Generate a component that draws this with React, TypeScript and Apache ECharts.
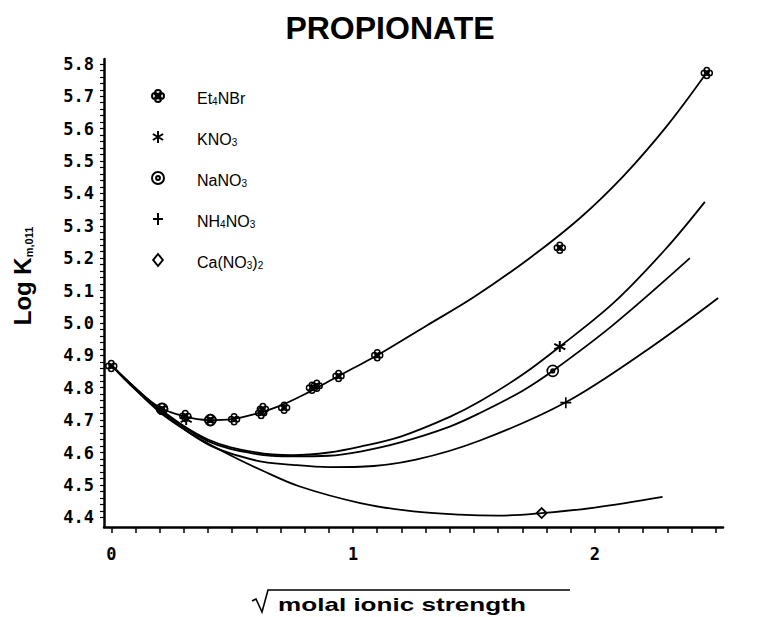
import React, { useEffect, useRef } from 'react';
import * as echarts from 'echarts';

// ---- data ----
const seriesNames = ['Et4NBr', 'KNO3', 'NaNO3', 'NH4NO3', 'Ca(NO3)2'];

// measured points
const et4nbrX = [0, 0.21, 0.306, 0.41, 0.508, 0.62, 0.627, 0.715, 0.83, 0.85, 0.94, 1.10, 1.855, 2.463];
const et4nbrY = [4.867, 4.734, 4.713, 4.70, 4.703, 4.722, 4.734, 4.738, 4.80, 4.806, 4.836, 4.90, 5.232, 5.772];
const kno3X = [0.31, 1.855];
const kno3Y = [4.702, 4.927];
const nano3X = [0.21, 0.41, 1.826];
const nano3Y = [4.735, 4.70, 4.852];
const nh4no3X = [1.88];
const nh4no3Y = [4.754];
const cano3X = [1.78];
const cano3Y = [4.413];

// fitted curves
const et4nbrCurveX = [0, 0.1, 0.2, 0.3, 0.4, 0.5, 0.6, 0.7, 0.8, 0.9, 1.0, 1.1, 1.3, 1.5, 1.73, 1.94, 2.12, 2.30, 2.46];
const et4nbrCurveY = [4.87, 4.795, 4.74, 4.712, 4.70, 4.703, 4.72, 4.745, 4.78, 4.82, 4.86, 4.90, 4.99, 5.08, 5.20, 5.325, 5.455, 5.61, 5.77];
const kno3CurveX = [0, 0.2, 0.4, 0.6, 0.75, 0.9, 1.03, 1.2, 1.4, 1.525, 1.7, 1.855, 2.076, 2.29, 2.455];
const kno3CurveY = [4.87, 4.735, 4.64, 4.60, 4.592, 4.60, 4.618, 4.65, 4.71, 4.758, 4.84, 4.927, 5.061, 5.226, 5.374];
const nano3CurveX = [0, 0.2, 0.4, 0.6, 0.75, 0.9, 1.03, 1.2, 1.4, 1.525, 1.7, 1.828, 2.076, 2.393];
const nano3CurveY = [4.87, 4.735, 4.635, 4.595, 4.588, 4.59, 4.603, 4.632, 4.68, 4.722, 4.79, 4.853, 4.994, 5.20];
const nh4no3CurveX = [0, 0.2, 0.4, 0.6, 0.75, 0.9, 1.03, 1.26, 1.525, 1.88, 2.213, 2.51];
const nh4no3CurveY = [4.87, 4.73, 4.625, 4.575, 4.562, 4.555, 4.556, 4.578, 4.637, 4.755, 4.915, 5.077];
const cano3CurveX = [0, 0.2, 0.34, 0.478, 0.62, 0.78, 1.03, 1.25, 1.44, 1.6, 1.78, 2.0, 2.28];
const cano3CurveY = [4.87, 4.725, 4.654, 4.597, 4.546, 4.495, 4.444, 4.418, 4.408, 4.405, 4.413, 4.43, 4.463];

// ticks
const xLabelVals = [0, 1, 2];
const yLabelVals = [4.4, 4.5, 4.6, 4.7, 4.8, 4.9, 5.0, 5.1, 5.2, 5.3, 5.4, 5.5, 5.6, 5.7, 5.8];
const xTickVals: number[] = [];
for (let i = 0; i <= 25; i++) xTickVals.push(i / 10);
const yTickVals: number[] = [];
for (let i = 0; i <= 70; i++) yTickVals.push(Math.round((4.4 + i * 0.02) * 100) / 100);

const pairs = (xs: number[], ys: number[]) => xs.map((x, i) => [x, ys[i]]);

const SYM_CLOVER = 'path://M0,-4.6A2.3,2.3 0 1,1 0,0A2.3,2.3 0 1,1 0,-4.6ZM0,0A2.3,2.3 0 1,1 0,4.6A2.3,2.3 0 1,1 0,0ZM-4.6,0A2.3,2.3 0 1,1 0,0A2.3,2.3 0 1,1 -4.6,0ZM0,0A2.3,2.3 0 1,1 4.6,0A2.3,2.3 0 1,1 0,0Z';
const SYM_STAR = 'path://M0,-5L0,5M-4.3,-2.5L4.3,2.5M-4.3,2.5L4.3,-2.5';
const SYM_CIRCDOT = 'path://M-5,0A5,5 0 1,0 5,0A5,5 0 1,0 -5,0ZM-1.6,0A1.6,1.6 0 1,0 1.6,0A1.6,1.6 0 1,0 -1.6,0Z';
const SYM_PLUS = 'path://M-5,0L5,0M0,-6L0,6';
const SYM_DIAMOND = 'path://M0,-5L4,0L0,5L-4,0Z';

const SANS = '"Liberation Sans", Arial, Helvetica, sans-serif';
const MONO = '"DejaVu Sans Mono", "Liberation Mono", monospace';

const richLabel: Record<string, string> = {
  'Et4NBr': '{n|Et}{s|4}{n|NBr}',
  'KNO3': '{n|KNO}{s|3}',
  'NaNO3': '{n|NaNO}{s|3}',
  'NH4NO3': '{n|NH}{s|4}{n|NO}{s|3}',
  'Ca(NO3)2': '{n|Ca(NO}{s|3}{n|)}{s|2}',
};

export default function App() {
  const ref = useRef<HTMLDivElement>(null);
  useEffect(() => {
    document.body.style.margin = '0';
    if (!ref.current) return;
    const chart = echarts.init(ref.current, undefined, { renderer: 'svg' });
    const curveStyle = { color: '#000', width: 1.8 };
    const curve = (name: string, xs: number[], ys: number[]) => ({
      type: 'line', name: name + ' fit', data: pairs(xs, ys), smooth: 0.35,
      showSymbol: false, symbol: 'none', lineStyle: curveStyle, silent: true, z: 1,
    });
    const pts = (name: string, xs: number[], ys: number[], symbol: string, size: number, bw: number) => ({
      type: 'scatter', name, data: pairs(xs, ys), symbol, symbolSize: size, z: 3,
      itemStyle: { color: 'rgba(255,255,255,0)', borderColor: '#000', borderWidth: bw, opacity: 1 },
    });
    chart.setOption({
      animation: false,
      backgroundColor: '#fff',
      grid: { left: 104, right: 41, top: 59, bottom: 90, containLabel: false },
      legend: {
        data: seriesNames,
        orient: 'vertical', left: 146, top: 84, itemGap: 24, itemWidth: 12, itemHeight: 12,
        formatter: (n: string) => richLabel[n] || n,
        textStyle: {
          padding: [0, 0, 0, 28],
          rich: {
            n: { fontFamily: SANS, fontSize: 16, color: '#000', lineHeight: 20, verticalAlign: 'bottom' },
            s: { fontFamily: SANS, fontSize: 10, color: '#000', lineHeight: 10, verticalAlign: 'bottom' },
          },
        },
      },
      xAxis: {
        type: 'value', min: -0.03, max: 2.53,
        axisLine: { show: true, onZero: false, lineStyle: { color: '#000', width: 2.5 } },
        axisTick: { show: true, customValues: xTickVals, length: 6, lineStyle: { color: '#000', width: 1.5 } },
        axisLabel: {
          customValues: xLabelVals, formatter: (v: number) => String(Math.round(v)),
          margin: 18, fontFamily: MONO, fontSize: 17, fontWeight: 'bold', color: '#000',
        },
        splitLine: { show: false },
      },
      yAxis: {
        type: 'value', min: 4.37, max: 5.815,
        axisLine: { show: true, onZero: false, lineStyle: { color: '#000', width: 2.5 } },
        axisTick: { show: true, customValues: yTickVals, length: 4, lineStyle: { color: '#000', width: 1.2 } },
        axisLabel: {
          customValues: yLabelVals, formatter: (v: number) => v.toFixed(1),
          margin: 10, fontFamily: MONO, fontSize: 17, fontWeight: 'bold', color: '#000',
        },
        splitLine: { show: false },
      },
      graphic: [
        {
          type: 'text', x: 390, y: 28,
          style: { text: 'PROPIONATE', fontFamily: SANS, fontSize: 32, fontWeight: 'bold', fill: '#000', textAlign: 'center', textVerticalAlign: 'middle' },
        },
        {
          type: 'text', x: 20, y: 276, rotation: Math.PI / 2,
          style: {
            text: '{n|Log K}{s|m,011}', textAlign: 'center', textVerticalAlign: 'middle',
            rich: {
              n: { fontFamily: SANS, fontSize: 24, fontWeight: 'bold', fill: '#000', color: '#000', lineHeight: 28, verticalAlign: 'bottom' },
              s: { fontFamily: SANS, fontSize: 11, fontWeight: 'bold', fill: '#000', color: '#000', lineHeight: 12, verticalAlign: 'bottom' },
            },
          },
        },
        {
          type: 'polyline', shape: { points: [[252, 601], [256, 599], [262, 612], [268, 590], [570, 590]] },
          style: { stroke: '#000', lineWidth: 1.6, fill: 'none' },
        },
        {
          type: 'text', x: 278, y: 605, scaleX: 1.45,
          style: { text: 'molal ionic strength', fontFamily: SANS, fontSize: 18, fontWeight: 'bold', fill: '#000', textAlign: 'left', textVerticalAlign: 'middle' },
        },
      ],
      series: [
        curve('Et4NBr', et4nbrCurveX, et4nbrCurveY),
        curve('KNO3', kno3CurveX, kno3CurveY),
        curve('NaNO3', nano3CurveX, nano3CurveY),
        curve('NH4NO3', nh4no3CurveX, nh4no3CurveY),
        curve('Ca(NO3)2', cano3CurveX, cano3CurveY),
        pts('Et4NBr', et4nbrX, et4nbrY, SYM_CLOVER, 11, 1.5),
        pts('KNO3', kno3X, kno3Y, SYM_STAR, 11, 2),
        pts('NaNO3', nano3X, nano3Y, SYM_CIRCDOT, 11, 1.6),
        pts('NH4NO3', nh4no3X, nh4no3Y, SYM_PLUS, 11, 1.6),
        pts('Ca(NO3)2', cano3X, cano3Y, SYM_DIAMOND, 10, 1.8),
      ],
    });
    return () => chart.dispose();
  }, []);
  return <div ref={ref} style={{ width: 764, height: 617 }} />;
}
